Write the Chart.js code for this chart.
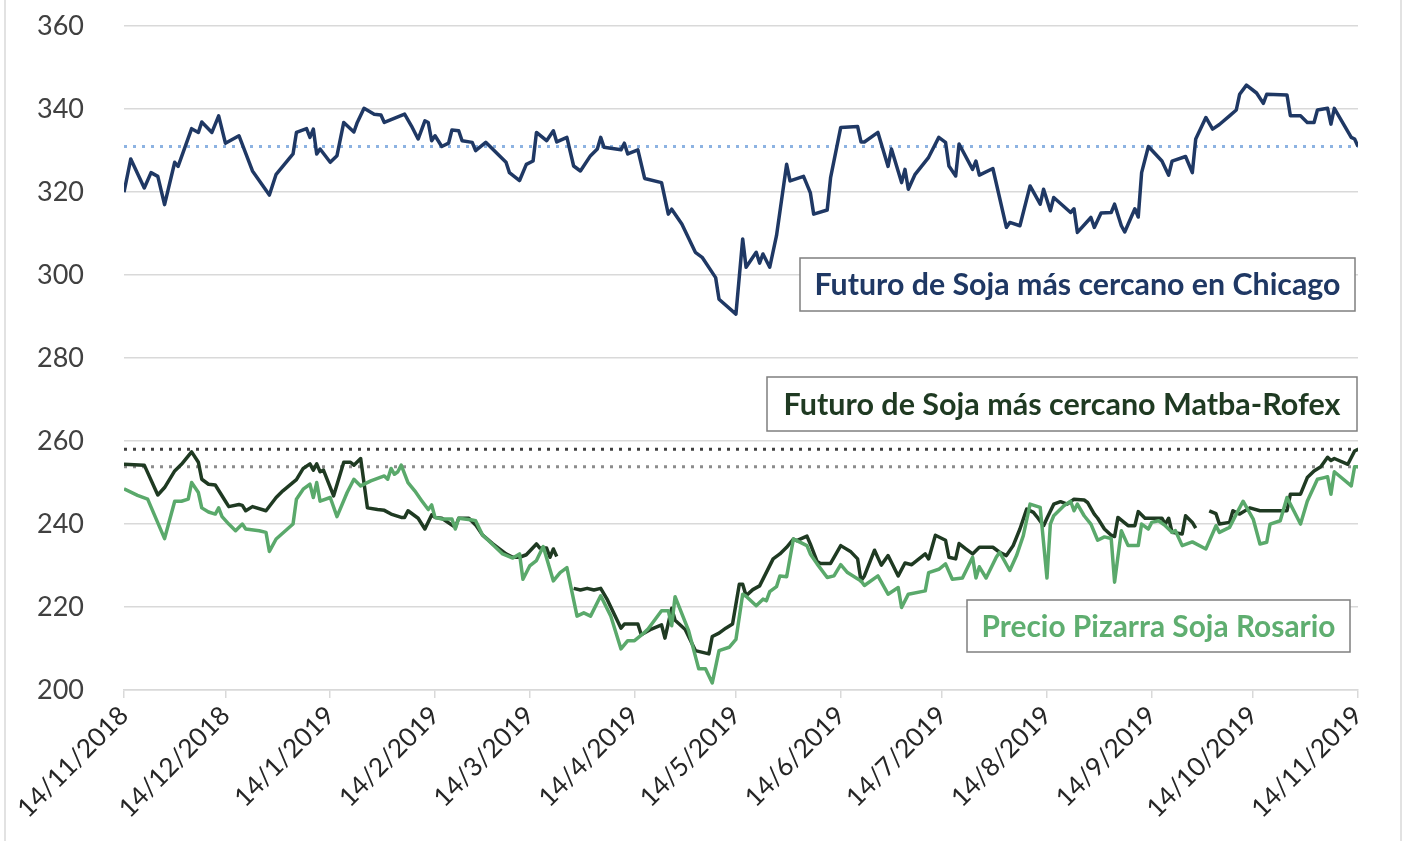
<!DOCTYPE html>
<html>
<head>
<meta charset="utf-8">
<script src="https://cdn.jsdelivr.net/npm/chart.js@4.4.1/dist/chart.umd.min.js"></script>
<style>
  html, body { margin: 0; padding: 0; background: #ffffff; }
  #wrap { width: 1411px; height: 841px; }
</style>
</head>
<body>
<div id="wrap"><canvas id="sojaChart" width="1411" height="841"></canvas></div>
<script>
// Days counted from 14/11/2018
const tickDays = [0, 30, 61, 92, 120, 151, 181, 212, 242, 273, 304, 334, 365];
const tickLabels = ['14/11/2018', '14/12/2018', '14/1/2019', '14/2/2019', '14/3/2019', '14/4/2019',
    '14/5/2019', '14/6/2019', '14/7/2019', '14/8/2019', '14/9/2019', '14/10/2019', '14/11/2019'];

// Futuro de Soja más cercano en Chicago
const chicagoDays = [0, 2, 6, 8, 10, 12, 15, 16, 20, 22, 23, 26, 28, 30, 34, 38, 43, 45, 50, 51,
    54, 55, 56, 57, 58, 61, 63, 65, 68, 69, 71, 74, 76, 77, 83, 85, 87, 89, 90, 91,
    92, 94, 96, 97, 99, 100, 103, 104, 107, 113, 114, 117, 119, 121, 122, 125, 127, 128, 131, 133,
    135, 138, 140, 141, 142, 147, 148, 149, 152, 154, 159, 161, 162, 165, 169, 171, 175, 176, 181, 183,
    184, 187, 188, 189, 191, 193, 196, 197, 201, 203, 204, 208, 209, 212, 217, 218, 219, 223, 226, 227,
    230, 231, 232, 234, 238, 241, 243, 244, 246, 247, 251, 252, 253, 257, 261, 262, 265, 268, 271, 272,
    274, 275, 280, 281, 282, 286, 287, 289, 292, 293, 295, 296, 299, 300, 301, 303, 307, 309, 310, 314,
    316, 317, 320, 322, 324, 327, 329, 330, 332, 335, 337, 338, 344, 345, 348, 350, 352, 353, 356, 357,
    358, 363, 364, 365];
const chicagoValues = [320, 328, 321, 324.7, 323.8, 317, 327.2, 326.2, 335.3, 334.4, 336.9, 334.4, 338.4, 331.8, 333.6, 325.1, 319.3, 324.3, 329.2, 334.4,
    335.3, 333.2, 335.2, 329.2, 330.4, 327.2, 328.8, 336.8, 334.5, 336.8, 340.2, 338.8, 338.6, 336.8, 338.8, 336, 332.8, 337.2, 336.8, 332.4,
    333.6, 331, 331.8, 335, 334.8, 332.4, 332, 330, 332, 327.2, 324.7, 322.8, 326.7, 327.5, 334.4, 332.4, 334.8, 332.1, 333.2, 326.3,
    325.1, 328.8, 330.4, 333.2, 330.8, 330.2, 331.8, 329.2, 330.2, 323.3, 322.3, 314.7, 315.9, 312.3, 305.5, 304.3, 299.4, 294.2, 290.6, 308.7,
    301.9, 305.5, 302.9, 305.1, 301.9, 309.5, 326.7, 322.7, 323.8, 319.9, 314.7, 315.7, 323.5, 335.6, 335.8, 332.1, 332.1, 334.4, 326.2, 330.4,
    322.3, 325.5, 320.7, 324.3, 328.4, 333.2, 332, 326.3, 323.9, 331.6, 325.5, 327.5, 324.1, 325.7, 311.5, 312.7, 311.9, 321.5, 317.1, 320.7,
    315.5, 318.7, 315.1, 316, 310.3, 313.9, 311.5, 315, 315.1, 317.1, 311.9, 310.4, 316, 314, 324.7, 331, 327.5, 324.1, 327.5, 328.6,
    324.7, 332.8, 338, 335.2, 336.3, 338.4, 339.8, 343.6, 345.8, 343.9, 341.4, 343.6, 343.4, 338.4, 338.4, 336.8, 336.8, 339.8, 340.2, 336.4,
    340.2, 333.2, 332.8, 331];

// Futuro de Soja más cercano Matba-Rofex (null = no quote)
const matbaDays = [0, 6, 10, 12, 15, 17, 20, 22, 23, 25, 27, 30, 31, 34, 35, 36, 38, 42, 45, 47,
    51, 53, 55, 56, 57, 58, 59, 62, 65, 67, 68, 70, 72, 75, 77, 79, 82, 83, 84, 87,
    89, 91, 92, 94, 98, 99, 102, 104, 106, 109, 113, 115, 117, 119, 122, 123, 125, 126, 127, 128,
    130, 133, 135, 137, 139, 141, 143, 147, 148, 152, 153, 156, 159, 160, 162, 163, 166, 169, 173, 174,
    176, 178, 180, 182, 183, 184, 186, 188, 192, 194, 196, 198, 199, 202, 203, 205, 206, 209, 212, 215,
    217, 218, 219, 222, 224, 226, 229, 231, 233, 237, 238, 240, 243, 244, 246, 247, 249, 251, 253, 257,
    259, 261, 263, 265, 267, 269, 270, 272, 273, 275, 277, 279, 281, 284, 285, 287, 288, 290, 292, 293,
    294, 297, 299, 300, 302, 305, 307, 308, 309, 310, 313, 314, 316, 317, 319, 321, 323, 324, 327, 328,
    330, 333, 336, 339, 344, 345, 348, 350, 352, 354, 356, 357, 358, 362, 364, 365];
const matbaValues = [254.4, 254.2, 247, 248.8, 252.8, 254.4, 257.4, 254.9, 250.8, 249.6, 249.4, 245.5, 244.2, 244.7, 244.5, 243.2, 244.2, 243.2, 246.4, 248,
    250.7, 253.4, 254.5, 253, 254.5, 252.6, 253, 246.8, 254.9, 254.9, 254.2, 255.8, 243.9, 243.5, 243.3, 242.4, 241.6, 241.6, 243.2, 241.4,
    238.8, 242.2, 241.6, 241.4, 239.2, 241.4, 241.4, 239.8, 237.4, 235.3, 232.8, 232, 232, 232.6, 235.2, 234.2, 234.2, 232, 234, 232.2,
    null, 224.5, 224.1, 224.5, 224.1, 224.5, 221.7, 214.9, 215.9, 215.9, 213.3, 214.7, 215.7, 212.5, 219.7, 216.8, 214.6, 209.5, 208.7, 212.9,
    213.7, 214.9, 215.9, 225.5, 225.5, 222.7, 224.2, 225.1, 231.6, 232.8, 234.4, 236.4, 236, 237.1, 235.2, 231, 230.5, 230.5, 234.8, 233.3,
    231.6, 226.3, 227.5, 233.7, 230.1, 232.4, 227.5, 230.6, 230.2, 232.8, 231.6, 237.3, 236.1, 232, 231.6, 235.3, 234, 232.8, 234.4, 234.4,
    233.2, 232.4, 234.8, 238.8, 243.6, 242.8, 241.8, 239.6, 241.4, 244.8, 245.4, 244.8, 246, 245.8, 245.2, 242.4, 241.4, 238.8, 237.3, 237,
    241.6, 239.6, 239.6, 243, 241.4, 241.4, 241.4, 240, 241.4, 238, 237.6, 242, 240.4, 239, null, 243.2, 242.5, 240, 240.4, 243.2,
    242.4, 243.9, 243.2, 243.2, 243.2, 247.2, 247.2, 251.2, 252.8, 253.8, 256.1, 255.3, 255.8, 254.4, 257.6, 258];

// Precio Pizarra Soja Rosario
const pizarraDays = [0, 4, 7, 12, 15, 17, 19, 20, 22, 23, 25, 27, 28, 29, 31, 33, 35, 36, 40, 42,
    43, 45, 50, 51, 53, 55, 56, 57, 58, 61, 63, 66, 68, 70, 73, 77, 78, 79, 80, 81,
    82, 84, 86, 88, 90, 91, 92, 94, 97, 98, 99, 103, 104, 106, 112, 115, 117, 118, 120, 122,
    124, 127, 129, 131, 134, 136, 138, 141, 144, 147, 149, 151, 154, 155, 159, 161, 162, 163, 167, 170,
    172, 174, 176, 179, 181, 183, 184, 187, 189, 190, 191, 193, 194, 196, 198, 199, 202, 203, 205, 208,
    210, 212, 214, 218, 219, 223, 226, 229, 230, 232, 237, 238, 241, 243, 245, 248, 251, 252, 253, 255,
    258, 259, 262, 264, 266, 268, 271, 273, 274, 275, 278, 280, 281, 282, 284, 286, 288, 290, 292, 293,
    295, 297, 300, 301, 303, 304, 306, 308, 310, 311, 313, 316, 320, 323, 324, 327, 329, 331, 334, 336,
    338, 339, 342, 344, 346, 348, 350, 353, 355, 356, 357, 358, 363, 364, 365];
const pizarraValues = [248.5, 246.9, 246, 236.5, 245.5, 245.5, 246, 250, 247.6, 243.9, 242.9, 242.4, 243.9, 241.8, 240, 238.4, 240, 238.8, 238.4, 238,
    233.4, 236.4, 240, 246, 248.4, 249.6, 246.4, 250, 245.5, 246.4, 241.8, 247.6, 250.8, 249.2, 250.4, 251.6, 250.8, 253.4, 252, 252.6,
    254.2, 250, 248, 245.7, 243.5, 244.6, 241.6, 241.2, 241.2, 238.8, 241.4, 241, 240.8, 237.4, 232.8, 231.8, 232.8, 226.7, 229.9, 231.2,
    234.6, 226.3, 228.3, 229.5, 217.8, 218.6, 217.8, 222.7, 217.8, 209.9, 211.9, 211.9, 213.9, 214.7, 219.1, 219.1, 215.5, 222.5, 214.3, 205.1,
    205.1, 201.7, 209.5, 210.3, 212.2, 223.1, 222.6, 220.3, 221.9, 221.5, 223.7, 224.9, 227.5, 227.3, 236.4, 236, 234.8, 232.8, 230.4, 227.1,
    227.5, 230.2, 228.3, 226.3, 225.2, 227.5, 223.1, 224.7, 219.9, 223.1, 223.9, 228.3, 229.1, 230.4, 226.7, 227, 232, 227, 229.7, 227,
    232, 233.2, 228.8, 232.4, 237.2, 244.8, 244, 227, 240, 242, 244.4, 245.5, 243.2, 244.8, 242, 240, 236.1, 236.9, 236.5, 226,
    238.4, 234.8, 234.8, 240, 238.8, 240.4, 240.8, 239.6, 238, 238.4, 234.8, 235.7, 234, 239.6, 238, 239.2, 242.4, 245.5, 241.2, 235.2,
    235.6, 240, 240.8, 246.4, 243.2, 240, 245.5, 250.8, 251.2, 251.4, 247.2, 252.6, 249.2, 253.8, 253.8];

function toPoints(days, values) {
    return days.map((d, i) => ({ x: d, y: values[i] }));
}

function lastValue(values) {
    return values[values.length - 1];
}

function refLine(value, color) {
    return {
        data: [{ x: tickDays[0], y: value }, { x: tickDays[tickDays.length - 1], y: value }],
        borderColor: color,
        borderWidth: 3,
        borderDash: [3, 6],
        pointRadius: 0,
        order: 5
    };
}

function seriesLine(days, values, color) {
    return {
        data: toPoints(days, values),
        borderColor: color,
        borderWidth: 3.5,
        borderJoinStyle: 'round',
        pointRadius: 0,
        tension: 0,
        spanGaps: false,
        order: 1
    };
}

// Text boxes and the outer frame
const labelBoxes = [
    { text: 'Futuro de Soja más cercano en Chicago', color: '#1f3864', left: 800, top: 258, right: 1355, bottom: 311, textWidth: 526 },
    { text: 'Futuro de Soja más cercano Matba-Rofex', color: '#1f3a22', left: 767, top: 377, right: 1357, bottom: 431, textWidth: 557 },
    { text: 'Precio Pizarra Soja Rosario', color: '#5fae70', left: 967, top: 600, right: 1350, bottom: 652, textWidth: 354 }
];

const boxPlugin = {
    id: 'boxPlugin',
    beforeDraw(chart) {
        const ctx = chart.ctx;
        ctx.save();
        ctx.strokeStyle = '#d9d9d9';
        ctx.lineWidth = 1.5;
        ctx.beginPath();
        ctx.moveTo(5, 0); ctx.lineTo(5, chart.height);
        ctx.moveTo(1401, 0); ctx.lineTo(1401, chart.height);
        ctx.stroke();
        ctx.restore();
    },
    afterDatasetsDraw(chart) {
        const ctx = chart.ctx;
        ctx.save();
        labelBoxes.forEach(b => {
            ctx.fillStyle = '#ffffff';
            ctx.fillRect(b.left, b.top, b.right - b.left, b.bottom - b.top);
            ctx.strokeStyle = '#7f7f7f';
            ctx.lineWidth = 1.5;
            ctx.strokeRect(b.left, b.top, b.right - b.left, b.bottom - b.top);
            ctx.fillStyle = b.color;
            ctx.font = 'bold 30.5px Lato';
            ctx.textAlign = 'center';
            ctx.textBaseline = 'middle';
            ctx.fillText(b.text, (b.left + b.right) / 2, (b.top + b.bottom) / 2 + 1, b.textWidth);
        });
        ctx.restore();
    }
};

const ctx = document.getElementById('sojaChart').getContext('2d');
const sojaChart = new Chart(ctx, {
    type: 'line',
    data: {
        datasets: [
            refLine(lastValue(chicagoValues), '#8db3e2'),
            refLine(lastValue(matbaValues), '#404040'),
            refLine(lastValue(pizarraValues), '#8c8c8c'),
            seriesLine(chicagoDays, chicagoValues, '#1f3864'),
            seriesLine(pizarraDays, pizarraValues, '#5aa96b'),
            seriesLine(matbaDays, matbaValues, '#1f3a22')
        ]
    },
    options: {
        responsive: false,
        animation: false,
        devicePixelRatio: 1,
        layout: { padding: { left: 37, right: 53, top: 0, bottom: 0 } },
        scales: {
            x: {
                type: 'linear',
                min: 0,
                max: 365,
                afterBuildTicks: (scale) => {
                    scale.ticks = tickDays.map(v => ({ value: v }));
                },
                afterFit: (scale) => { scale.height = 151; },
                grid: {
                    drawOnChartArea: false,
                    drawTicks: true,
                    tickLength: 8,
                    color: '#d9d9d9',
                    lineWidth: 1.5
                },
                border: { display: true, color: '#d9d9d9', width: 1.5 },
                ticks: {
                    autoSkip: false,
                    minRotation: 45,
                    maxRotation: 45,
                    padding: 2,
                    color: '#262626',
                    font: { family: 'Lato', size: 26 },
                    callback: (value) => tickLabels[tickDays.indexOf(value)]
                }
            },
            y: {
                min: 200,
                max: 360,
                afterFit: (scale) => { scale.width = 87; },
                grid: { color: '#d9d9d9', lineWidth: 1.5, drawTicks: false },
                border: { display: false },
                ticks: {
                    stepSize: 20,
                    padding: 10,
                    crossAlign: 'far',
                    color: '#404040',
                    font: { family: 'Lato', size: 27 }
                }
            }
        },
        plugins: {
            legend: { display: false },
            tooltip: { enabled: false }
        }
    },
    plugins: [boxPlugin]
});
</script>
</body>
</html>
